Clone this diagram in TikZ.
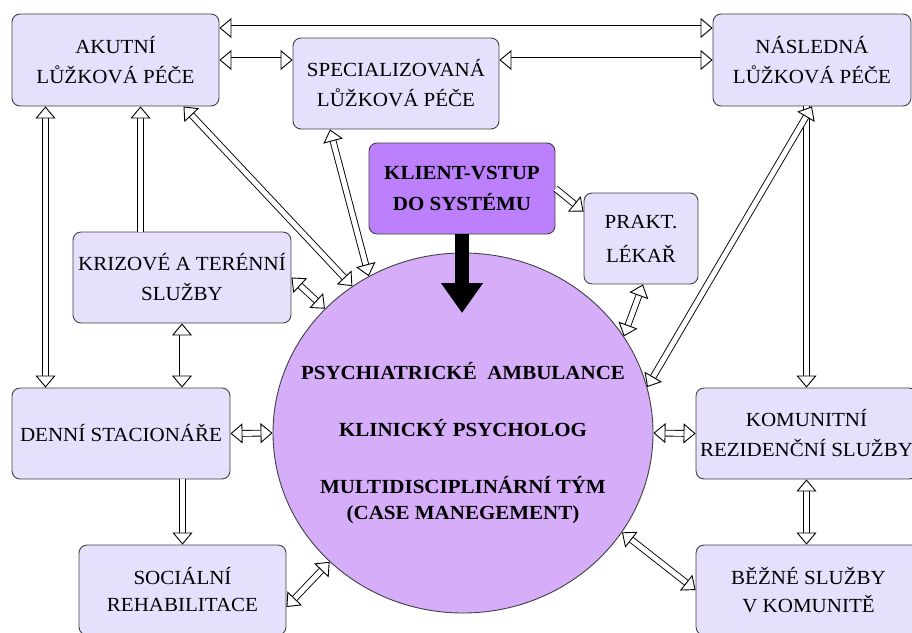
\documentclass[tikz,border=0pt]{standalone}
\usepackage{fontspec}
\setmainfont{Liberation Serif}[FakeStretch=1.05]
\usepackage{tikz}
\usetikzlibrary{shapes.geometric, arrows.meta}
\definecolor{boxfill}{RGB}{230, 224, 252}
\definecolor{entry}{RGB}{189, 128, 252}
\definecolor{core}{RGB}{214, 173, 249}
\definecolor{edge}{RGB}{64, 64, 64}
\newcommand*{\bh}{91}

\begin{document}
\begin{tikzpicture}[
   x=1pt, y=-1pt,
   service/.style={rectangle, rounded corners=8, draw=edge, fill=boxfill, line width=0.9,
                   align=center, inner sep=2, minimum height=\bh,
                   font=\fontsize{20}{30}\selectfont},
   entrybox/.style={service, fill=entry, font=\bfseries\fontsize{20}{31}\selectfont},
   coreell/.style={ellipse, draw=edge, fill=core, line width=0.9,
                   minimum width=380, minimum height=360, inner sep=0},
   coretext/.style={align=center, font=\bfseries\fontsize{20}{26}\selectfont},
   hollow/.tip={Triangle[fill=white, line width=0.9pt, length=12pt, width=20pt]},
   link/.style={draw=black, double=white, line width=0.9, double distance=5, hollow-hollow},
   onelink/.style={link, -hollow},
   bigarrow/.style={draw=black, line width=14, -{Triangle[length=30pt, width=40pt]}}
  ]

  \useasboundingbox (0, 0) rectangle (912, 632);

  % Boxes
  \node (akutni) at (115.5, 60) [service, minimum width=207, minimum height=92] {AKUTNÍ\\LŮŽKOVÁ PÉČE};
  \node (special) at (396, 83.5) [service, minimum width=206] {SPECIALIZOVANÁ\\LŮŽKOVÁ PÉČE};
  \node (nasledna) at (812, 60) [service, minimum width=198, minimum height=92] {NÁSLEDNÁ\\LŮŽKOVÁ PÉČE};

  \node (klient) at (462, 188.5) [entrybox, minimum width=186] {KLIENT-VSTUP\\DO SYSTÉMU};
  \node (prakt) at (641, 238.5) [service, minimum width=114, font=\fontsize{20}{34}\selectfont] {PRAKT.\\LÉKAŘ};

  \node (krizove) at (182, 277.5) [service, minimum width=218] {KRIZOVÉ A TERÉNNÍ\\SLUŽBY};
  \node (denni) at (121, 433.5) [service, minimum width=218] {DENNÍ STACIONÁŘE};
  \node (socialni) at (182.5, 590) [service, minimum width=207, minimum height=90,
                                    font=\fontsize{20}{27}\selectfont] {SOCIÁLNÍ\\REHABILITACE};

  \node (komunitni) at (806.5, 433.5) [service, minimum width=221] {KOMUNITNÍ\\REZIDENČNÍ SLUŽBY};
  \node (bezne) at (808.5, 590) [service, minimum width=225, minimum height=90,
                                 font=\fontsize{20}{28}\selectfont] {BĚŽNÉ SLUŽBY\\V KOMUNITĚ};

  % Centre
  \node (ambul) at (463, 433) [coreell] {};
  \node (ambtxt) at ([yshift=-10]ambul.center) [coretext]
        {PSYCHIATRICKÉ~ AMBULANCE\\[31pt]KLINICKÝ PSYCHOLOG\\[31pt]MULTIDISCIPLINÁRNÍ TÝM\\(CASE MANEGEMENT)};

  % Links
  \draw[link] ([yshift=32]akutni.east) -- ([yshift=32]nasledna.west);
  \draw[link] (akutni.east) -- (special.west |- akutni.east);
  \draw[link] (special.east |- nasledna.west) -- (nasledna.west);

  \draw[link] ([xshift=-70]akutni.south) -- ([xshift=-70]akutni.south |- denni.north);
  \draw[onelink] ([xshift=25]akutni.south |- krizove.north) -- ([xshift=25]akutni.south);
  \draw[link] (krizove.south) -- (krizove.south |- denni.north);
  \draw[onelink] (socialni.north |- denni.south) -- (socialni.north);
  \draw[onelink] (komunitni.north |- nasledna.south) -- (komunitni.north);
  \draw[link] (komunitni.south) -- (komunitni.south |- bezne.north);

  \draw[link] (denni.east) -- (ambul.west);
  \draw[link] (ambul.east) -- (komunitni.west);

  \draw[link] ([xshift=68]akutni.south) -- (ambul.127);
  \draw[link] ([xshift=-66]special.south) -- (ambul.121);
  \draw[link] (krizove.east) -- (ambul.138);
  \draw[link] ([yshift=-17]socialni.east) -- (ambul.224);
  \draw[link] ([xshift=2]prakt.south) -- (ambul.31);
  \draw[link] (nasledna.south) -- (ambul.14);
  \draw[link] (ambul.-32) -- (bezne.west);
  \draw[onelink] (klient.east) -- ([yshift=27]prakt.west);

  \coordinate (entrytip) at (462, 313);
  \draw[bigarrow] (klient.south) -- (entrytip);

\end{tikzpicture}
\end{document}
